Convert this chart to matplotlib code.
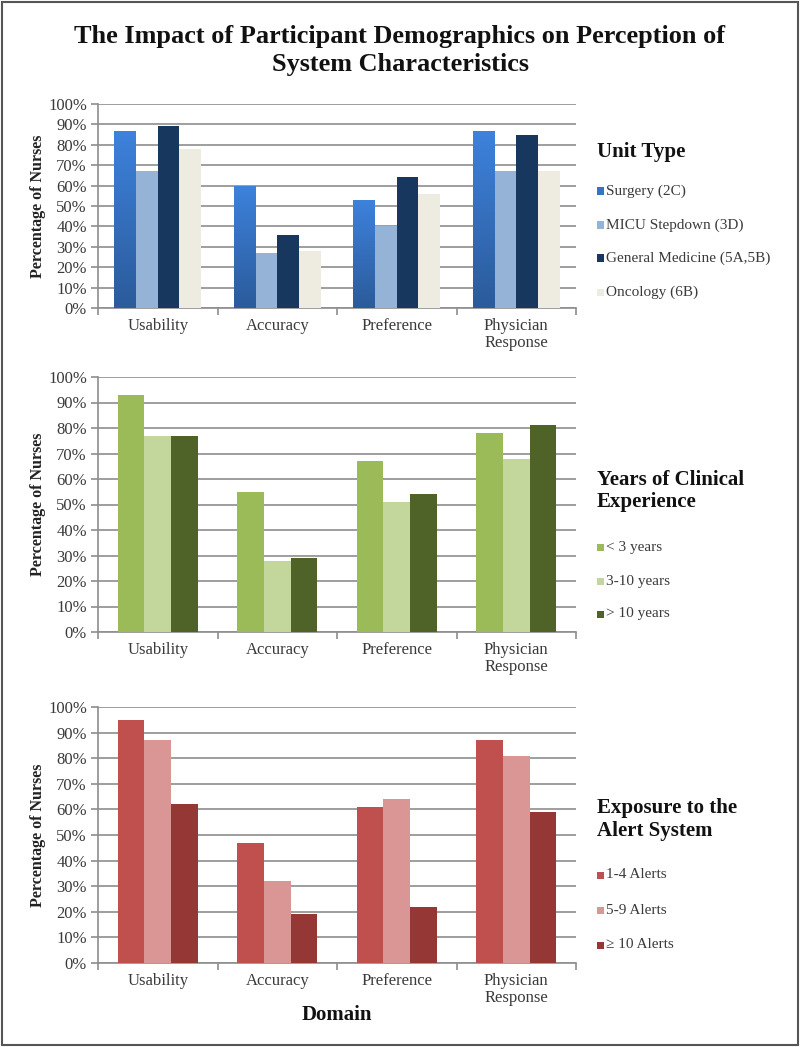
import matplotlib
matplotlib.use("Agg")
import matplotlib.pyplot as plt
import numpy as np
from matplotlib.patches import Rectangle
from matplotlib.colors import LinearSegmentedColormap

# ---------------- data ----------------
domains = ["Usability", "Accuracy", "Preference", "Physician\nResponse"]

unit_labels = ["Surgery (2C)", "MICU Stepdown (3D)", "General Medicine (5A,5B)", "Oncology (6B)"]
surgery = [87, 60, 53, 87]
micu = [67, 27, 40, 67]
gen_med = [89, 36, 64, 85]
oncology = [78, 28, 56, 67]

exp_labels = ["< 3 years", "3-10 years", "> 10 years"]
exp_lt3 = [93, 55, 67, 78]
exp_3to10 = [77, 28, 51, 68]
exp_gt10 = [77, 29, 54, 81]

alert_labels = ["1-4 Alerts", "5-9 Alerts", "\u2265 10 Alerts"]
alerts_1to4 = [95, 47, 61, 87]
alerts_5to9 = [87, 32, 64, 81]
alerts_ge10 = [62, 19, 22, 59]

yticks = list(range(0, 101, 10))

# ---------------- style ----------------
W, H = 800, 1047
fig = plt.figure(figsize=(W / 100, H / 100), dpi=100)
SERIF = ["Liberation Serif", "DejaVu Serif"]
TXT = "#3a3a3a"
GRID = "#8e8e8e"

def fx(px):
    return px / W

def fy(py):
    return 1 - py / H

panels = [
    dict(top=104, bot=308, series=[surgery, micu, gen_med, oncology], labels=unit_labels,
         colors=["#3474c4", "#95b3d7", "#17375e", "#eeece1"], barw=0.182,
         title=["Unit Type"], title_y=[152], entry_y=[191, 225, 258, 292], gradient=0),
    dict(top=377, bot=632, series=[exp_lt3, exp_3to10, exp_gt10], labels=exp_labels,
         colors=["#9bbb59", "#c3d69b", "#4f6228"], barw=0.223,
         title=["Years of Clinical", "Experience"], title_y=[480, 502], entry_y=[547, 581, 614], gradient=None),
    dict(top=707, bot=963, series=[alerts_1to4, alerts_5to9, alerts_ge10], labels=alert_labels,
         colors=["#c0504d", "#d99694", "#953735"], barw=0.223,
         title=["Exposure to the", "Alert System"], title_y=[808, 831], entry_y=[875, 910, 945], gradient=None),
]

left_px, right_px = 98, 576
grad_cmap = LinearSegmentedColormap.from_list("g", ["#2b5b9b", "#3d82dc"])

x = np.arange(len(domains))
for i, p in enumerate(panels):
    ax = fig.add_axes([fx(left_px), fy(p["bot"]), fx(right_px - left_px), (p["bot"] - p["top"]) / H])
    n = len(p["series"])
    for k, (vals, col, lab) in enumerate(zip(p["series"], p["colors"], p["labels"])):
        offs = (k - (n - 1) / 2) * p["barw"]
        bars = ax.bar(x + offs, vals, width=p["barw"], color=col, label=lab, zorder=3, linewidth=0)
        if p["gradient"] == k:
            for b in bars:
                bx, by = b.get_x(), b.get_y()
                bw, bh = b.get_width(), b.get_height()
                grad = np.linspace(0, 1, 100).reshape(-1, 1)
                im = ax.imshow(grad, cmap=grad_cmap, origin="lower", aspect="auto",
                               extent=[bx, bx + bw, by, by + bh], zorder=4)
                im.set_clip_path(b)
    ax.set_xlim(-0.5, len(domains) - 0.5)
    ax.set_ylim(0, 100)
    ax.set_yticks(yticks)
    ax.set_yticklabels([f"{t}%" for t in yticks], fontfamily=SERIF, fontsize=12, color=TXT)
    ax.yaxis.grid(True, color=GRID, linewidth=1.2, zorder=0)
    ax.set_axisbelow(True)
    for s in ["top", "right"]:
        ax.spines[s].set_visible(False)
    for s in ["left", "bottom"]:
        ax.spines[s].set_color(GRID)
        ax.spines[s].set_linewidth(1.2)
    ax.tick_params(axis="y", length=5, color=GRID, width=1.2, pad=3)
    ax.set_xticks(x)
    ax.set_xticklabels(domains, fontfamily=SERIF, fontsize=12, color=TXT, linespacing=1.1)
    ax.tick_params(axis="x", length=0, pad=7)
    ax.set_xticks(np.arange(-0.5, len(domains) + 0.5, 1), minor=True)
    ax.tick_params(axis="x", which="minor", length=5, color=GRID, width=1.2)
    ax.set_ylabel("Percentage of Nurses", fontfamily=SERIF, fontsize=11.5, fontweight="bold",
                  color="#222222")
    ax.yaxis.set_label_coords((46 - left_px) / (right_px - left_px), 0.5)

    # legend (manual, Excel-style)
    for t, ty in zip(p["title"], p["title_y"]):
        fig.text(fx(597), fy(ty), t, fontfamily=SERIF, fontsize=15, fontweight="bold",
                 color="#111111", va="center", ha="left")
    for lab, col, ey in zip(p["labels"], p["colors"], p["entry_y"]):
        fig.patches.append(Rectangle((fx(597), fy(ey + 3.5)), fx(7), 7 / H, transform=fig.transFigure,
                                     facecolor=col, edgecolor="none", figure=fig))
        fig.text(fx(606), fy(ey), lab, fontfamily=SERIF, fontsize=11, color=TXT, va="center", ha="left")

fig.text(fx(337), fy(1015), "Domain", fontfamily=SERIF, fontsize=15, fontweight="bold",
         color="#111111", ha="center", va="center")

# title, fitted to the reference width
renderer = fig.canvas.get_renderer()
t1 = fig.text(0.5, fy(37), "The Impact of Participant Demographics on Perception of",
              fontfamily=SERIF, fontsize=20, fontweight="bold",
              color="#111111", ha="center", va="center")
w = t1.get_window_extent(renderer).width
fs = 20 * 650 / w
t1.set_fontsize(fs)
fig.text(0.5, fy(64), "System Characteristics", fontfamily=SERIF, fontsize=fs, fontweight="bold",
         color="#111111", ha="center", va="center")

fig.patches.append(Rectangle((fx(2), fy(1045)), fx(796), 1043 / H, transform=fig.transFigure,
                             facecolor="none", edgecolor="#555555", linewidth=1.5, figure=fig))

fig.savefig("out.png", dpi=100, facecolor="white")
